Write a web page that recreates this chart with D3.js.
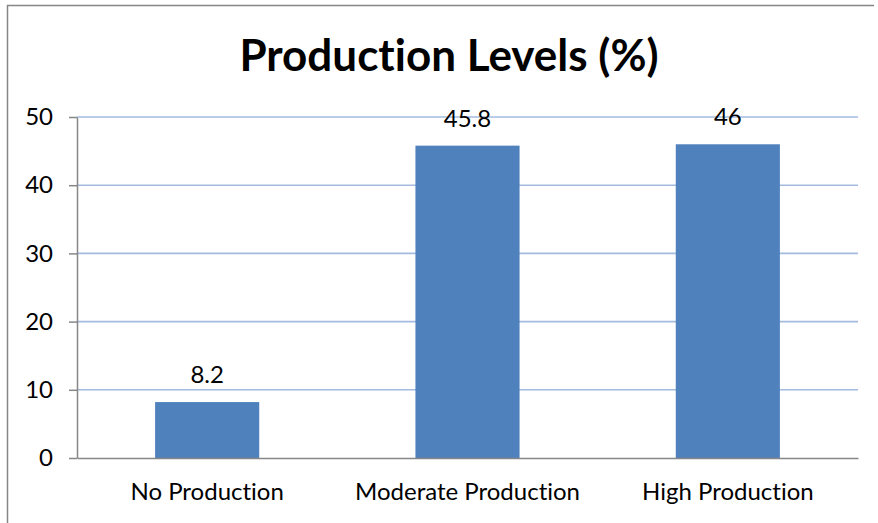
<!DOCTYPE html>
<html>
<head>
<meta charset="utf-8">
<script src="https://cdn.jsdelivr.net/npm/d3@7"></script>
<style>
  body { margin: 0; background: #fff; }
  svg { display: block; }
  text { font-family: Lato, "Open Sans", sans-serif; fill: #000; font-variant-ligatures: none; }
</style>
</head>
<body>
<svg></svg>
<script>
// chart data
const categories = ["No Production", "Moderate Production", "High Production"];
const values = [8.2, 45.8, 46];
const yTicks = [0, 10, 20, 30, 40, 50];
const title = "Production Levels (%)";

const width = 878;
const height = 523;
const plot = { left: 77, right: 858, top: 117, bottom: 458 };

const svg = d3.select("svg").attr("width", width).attr("height", height);

// outer chart frame (only top and left edges visible in the crop)
svg.append("path")
    .attr("d", `M7.5,${height} V5.5 H874`)
    .attr("fill", "none")
    .attr("stroke", "#868686")
    .attr("stroke-width", 1.5);

// scales
const x = d3.scaleBand()
    .domain(categories)
    .range([plot.left, plot.right])
    .paddingInner(0.6)
    .paddingOuter(0.3);

const y = d3.scaleLinear()
    .domain([0, 50])
    .range([plot.bottom, plot.top]);

// gridlines
svg.append("g")
    .attr("class", "grid")
    .selectAll("line")
    .data(yTicks.filter((t) => t > 0))
    .join("line")
    .attr("x1", plot.left)
    .attr("x2", plot.right)
    .attr("y1", (d) => y(d))
    .attr("y2", (d) => y(d))
    .attr("stroke", "#a3bbdf")
    .attr("stroke-width", 1.6);

// bars
svg.append("g")
    .selectAll("rect")
    .data(values)
    .join("rect")
    .attr("x", (d, i) => x(categories[i]))
    .attr("y", (d) => y(d))
    .attr("width", x.bandwidth())
    .attr("height", (d) => y(0) - y(d))
    .attr("fill", "#4f81bd");

// y axis
const yAxis = svg.append("g")
    .attr("transform", `translate(${plot.left},0)`)
    .call(d3.axisLeft(y).tickValues(yTicks).tickSize(8).tickPadding(16).tickSizeOuter(0));
yAxis.select(".domain").attr("stroke", "#878787").attr("stroke-width", 1.5);
yAxis.selectAll(".tick line").attr("stroke", "#878787").attr("stroke-width", 1.5);
yAxis.selectAll(".tick text")
    .attr("font-size", 24)
    .attr("font-family", "Lato, sans-serif")
    .attr("fill", "#000");

// x axis
const xAxis = svg.append("g")
    .attr("transform", `translate(0,${plot.bottom})`)
    .call(d3.axisBottom(x).tickSize(0).tickPadding(25).tickSizeOuter(0));
xAxis.select(".domain").attr("stroke", "#878787").attr("stroke-width", 1.5);
xAxis.selectAll(".tick text")
    .attr("font-size", 24)
    .attr("font-family", "Lato, sans-serif")
    .attr("fill", "#000");

// value labels
svg.append("g")
    .selectAll("text")
    .data(values)
    .join("text")
    .attr("x", (d, i) => x(categories[i]) + x.bandwidth() / 2)
    .attr("y", (d) => y(d) - 19)
    .attr("text-anchor", "middle")
    .attr("font-size", 24)
    .text((d) => d);

// title
svg.append("text")
    .attr("x", 449)
    .attr("y", 71)
    .attr("text-anchor", "middle")
    .attr("font-size", 44)
    .attr("font-weight", "bold")
    .text(title);
</script>
</body>
</html>
